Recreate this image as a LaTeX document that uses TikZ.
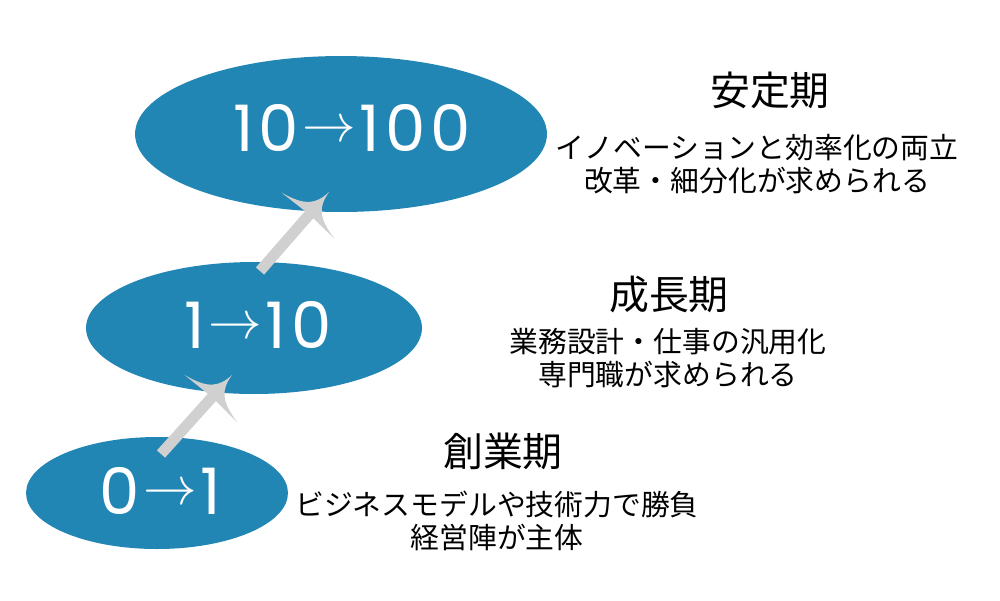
\documentclass[tikz,border=0pt]{standalone}
\usepackage{fontspec}
\setmainfont{Poppins}
\newfontfamily\jp{Noto Sans CJK JP}
\newfontfamily\stagefont{Poppins}[LetterSpace=8]
\usetikzlibrary{shapes.geometric,arrows.meta}

\definecolor{stageblue}{RGB}{34,134,181}
\definecolor{risegray}{RGB}{208,208,208}

% arrow tip with hollow curved sides
\pgfdeclarearrow{
  name = Swoop,
  setup code = {
    \pgfarrowssettipend{0pt}
    \pgfarrowssetbackend{-18pt}
    \pgfarrowssetvisualbackend{-17pt}
    \pgfarrowssetlineend{-16pt}
    \pgfarrowshullpoint{0pt}{0pt}
    \pgfarrowsupperhullpoint{-18pt}{20pt}
  },
  drawing code = {
    \pgfpathmoveto{\pgfpoint{0pt}{0pt}}
    \pgfpathcurveto{\pgfpoint{-10pt}{1pt}}{\pgfpoint{-15pt}{5pt}}{\pgfpoint{-18pt}{20pt}}
    \pgfpathlineto{\pgfpoint{-17pt}{0pt}}
    \pgfpathlineto{\pgfpoint{-18pt}{-20pt}}
    \pgfpathcurveto{\pgfpoint{-15pt}{-5pt}}{\pgfpoint{-10pt}{-1pt}}{\pgfpoint{0pt}{0pt}}
    \pgfpathclose
    \pgfusepathqfill
  }
}

\newcommand{\stepto}{\hspace{2pt}\raisebox{6pt}{\scalebox{3.05}{\fontsize{10}{12}\selectfont$\rightarrow$}}\hspace{2pt}}

\begin{document}
\begin{tikzpicture}[x=0.02cm,y=-0.02cm,
  stage/.style={ellipse,fill=stageblue,inner sep=0pt},
  stagetext/.style={text=white,inner sep=0pt,font=\stagefont\fontsize{36.5}{36.5}\selectfont},
  title/.style={font=\jp\fontsize{22.7}{24}\selectfont},
  note/.style={font=\jp\fontsize{16.4}{18.6}\selectfont,align=center},
  rise/.style={risegray,line width=6.2pt,-{Swoop}}]
\useasboundingbox (0,0) rectangle (1000,600);
% Stages
\node[stage,minimum width=5.24cm,minimum height=2.24cm] (seed) at (157,493) {};
\node[stage,minimum width=6.72cm,minimum height=2.64cm] (growth) at (254,328) {};
\node[stage,minimum width=8.24cm,minimum height=3.12cm] (mature) at (341,134) {};
\node[stagetext] (seednum) at (160,491) {0\stepto1};
\node[stagetext] (growthnum) at (258,325) {1\stepto10};
\node[stagetext] (maturenum) at (352,128) {10\stepto100};
% Rising arrows
\coordinate (seedout) at (161,454);
\coordinate (growthin) at (232,375);
\coordinate (growthout) at (260,271);
\coordinate (maturein) at (329,192);
\draw[rise] (seedout) -- (growthin);
\draw[rise] (growthout) -- (maturein);
% Labels
\node[title] (seedtitle) at (503,451) {創業期};
\node[note] (seednote) at (497,521) {ビジネスモデルや技術力で勝負\\経営陣が主体};
\node[title] (growthtitle) at (669,294) {成長期};
\node[note] (growthnote) at (668,358) {業務設計・仕事の汎用化\\専門職が求められる};
\node[title] (maturetitle) at (770,90) {安定期};
\node[note] (maturenote) at (757,164) {イノベーションと効率化の両立\\改革・細分化が求められる};
\end{tikzpicture}
\end{document}
